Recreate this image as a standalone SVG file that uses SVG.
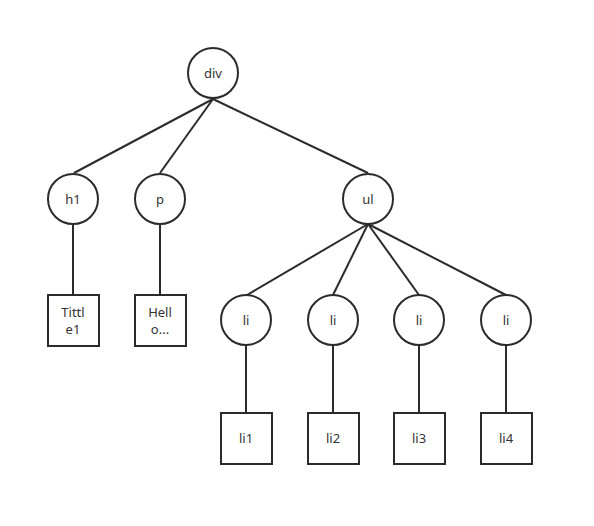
<svg xmlns="http://www.w3.org/2000/svg" width="594" height="526" viewBox="0 0 594 526">
<style>
.n{fill:#fff;stroke:#2b2b2b;stroke-width:2}
.e{stroke:#2b2b2b;stroke-width:2;fill:none}
text{font-family:"Noto Sans","Liberation Sans",sans-serif;font-size:13px;fill:#333;text-anchor:middle}
</style>
<rect width="594" height="526" fill="#fff"/>
<g id="connectors">
<line class="e" x1="213" y1="99" x2="74" y2="173"/>
<line class="e" x1="213" y1="99" x2="160" y2="173"/>
<line class="e" x1="213" y1="99" x2="368" y2="173"/>
<line class="e" x1="73" y1="224" x2="73" y2="295"/>
<line class="e" x1="160" y1="224" x2="160" y2="295"/>
<line class="e" x1="368" y1="224" x2="247" y2="295"/>
<line class="e" x1="368" y1="224" x2="333" y2="295"/>
<line class="e" x1="368" y1="224" x2="419" y2="295"/>
<line class="e" x1="368" y1="224" x2="506" y2="295"/>
<line class="e" x1="246" y1="346" x2="246" y2="413"/>
<line class="e" x1="333" y1="346" x2="333" y2="413"/>
<line class="e" x1="419" y1="346" x2="419" y2="413"/>
<line class="e" x1="506" y1="346" x2="506" y2="413"/>
</g>
<g id="div"><circle class="n" cx="213" cy="73" r="25"/><text x="213" y="78">div</text></g>
<g id="h1"><circle class="n" cx="73" cy="199" r="25"/><text x="73" y="204">h1</text></g>
<g id="p"><circle class="n" cx="160" cy="199" r="25"/><text x="160" y="204">p</text></g>
<g id="ul"><circle class="n" cx="368" cy="199" r="25"/><text x="368" y="204">ul</text></g>
<g id="t1"><rect class="n" x="48" y="295" width="51" height="51"/><text x="73" y="317">Tittl</text><text x="73" y="334">e1</text></g>
<g id="t2"><rect class="n" x="135" y="295" width="51" height="51"/><text x="160" y="317">Hell</text><text x="160" y="334">o...</text></g>
<g id="li_a"><circle class="n" cx="246" cy="320" r="25"/><text x="246" y="325">li</text></g>
<g id="li_b"><circle class="n" cx="333" cy="320" r="25"/><text x="333" y="325">li</text></g>
<g id="li_c"><circle class="n" cx="419" cy="320" r="25"/><text x="419" y="325">li</text></g>
<g id="li_d"><circle class="n" cx="506" cy="320" r="25"/><text x="506" y="325">li</text></g>
<g id="li1"><rect class="n" x="221" y="413" width="51" height="51"/><text x="246" y="443">li1</text></g>
<g id="li2"><rect class="n" x="308" y="413" width="51" height="51"/><text x="333" y="443">li2</text></g>
<g id="li3"><rect class="n" x="394" y="413" width="51" height="51"/><text x="419" y="443">li3</text></g>
<g id="li4"><rect class="n" x="481" y="413" width="51" height="51"/><text x="506" y="443">li4</text></g>
</svg>
